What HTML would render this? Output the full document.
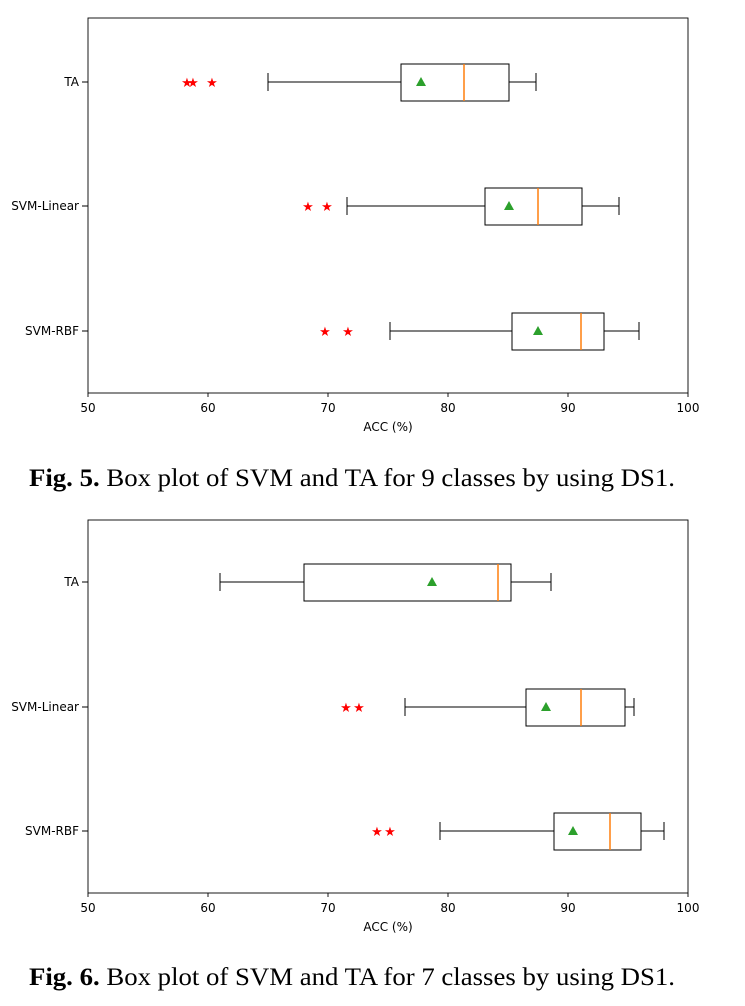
<!DOCTYPE html>
<html><head><style>body{margin:0;background:#fff}svg{display:block}</style></head><body>
<svg width="745" height="1006" xmlns="http://www.w3.org/2000/svg" font-family="DejaVu Sans, Liberation Sans, sans-serif">
<defs>
<g id="ticks">
<g stroke="#000" stroke-width="0.9">
<line x1="88" y1="0" x2="88" y2="4"/><line x1="208" y1="0" x2="208" y2="4"/><line x1="328" y1="0" x2="328" y2="4"/><line x1="448" y1="0" x2="448" y2="4"/><line x1="568" y1="0" x2="568" y2="4"/><line x1="688" y1="0" x2="688" y2="4"/>
</g>
<g font-size="12" text-anchor="middle" fill="#000">
<text x="88" y="19">50</text><text x="208" y="19">60</text><text x="328" y="19">70</text><text x="448" y="19">80</text><text x="568" y="19">90</text><text x="688" y="19">100</text>
<text x="388" y="38" font-size="12">ACC (%)</text>
</g>
</g>
<polygon id="tri" points="0,-5 5,4 -5,4" fill="#2ca02c"/>
</defs>
<!-- Plot 1 -->
<rect x="88" y="18" width="600" height="375" fill="none" stroke="#000" stroke-width="0.9"/>
<use href="#ticks" y="393"/>
<g font-size="12" text-anchor="end" fill="#000">
<text x="79" y="86">TA</text><text x="79" y="210">SVM-Linear</text><text x="79" y="335">SVM-RBF</text>
</g>
<g stroke="#000" stroke-width="1" fill="none">
<line x1="82" y1="82" x2="88" y2="82"/><line x1="82" y1="206" x2="88" y2="206"/><line x1="82" y1="331" x2="88" y2="331"/>
<line x1="268" y1="82" x2="401" y2="82"/><line x1="509" y1="82" x2="536" y2="82"/><line x1="268" y1="73" x2="268" y2="91"/><line x1="536" y1="73" x2="536" y2="91"/><rect x="401" y="64" width="108" height="37"/>
<line x1="347" y1="206" x2="485" y2="206"/><line x1="582" y1="206" x2="619" y2="206"/><line x1="347" y1="197" x2="347" y2="215"/><line x1="619" y1="197" x2="619" y2="215"/><rect x="485" y="188" width="97" height="37"/>
<line x1="390" y1="331" x2="512" y2="331"/><line x1="604" y1="331" x2="639" y2="331"/><line x1="390" y1="322" x2="390" y2="340"/><line x1="639" y1="322" x2="639" y2="340"/><rect x="512" y="313" width="92" height="37"/>
</g>
<g stroke="#ff7f0e" stroke-width="1.5"><line x1="464" y1="64" x2="464" y2="101"/><line x1="538" y1="188" x2="538" y2="225"/><line x1="581" y1="313" x2="581" y2="350"/></g>
<use href="#tri" x="421" y="82"/><use href="#tri" x="509" y="206"/><use href="#tri" x="538" y="331"/>
<g fill="red" font-size="13" text-anchor="middle">
<text x="187" y="87">★</text><text x="193" y="87">★</text><text x="212" y="87">★</text>
<text x="308" y="211">★</text><text x="327" y="211">★</text>
<text x="325" y="336">★</text><text x="348" y="336">★</text>
</g>
<text x="29" y="486" font-family="Liberation Serif, serif" font-size="25" textLength="646" lengthAdjust="spacingAndGlyphs"><tspan font-weight="bold">Fig. 5.</tspan> Box plot of SVM and TA for 9 classes by using DS1.</text>
<!-- Plot 2 -->
<rect x="88" y="520" width="600" height="373" fill="none" stroke="#000" stroke-width="0.9"/>
<use href="#ticks" y="893"/>
<g font-size="12" text-anchor="end" fill="#000">
<text x="79" y="586">TA</text><text x="79" y="711">SVM-Linear</text><text x="79" y="835">SVM-RBF</text>
</g>
<g stroke="#000" stroke-width="1" fill="none">
<line x1="82" y1="582" x2="88" y2="582"/><line x1="82" y1="707" x2="88" y2="707"/><line x1="82" y1="831" x2="88" y2="831"/>
<line x1="220" y1="582" x2="304" y2="582"/><line x1="511" y1="582" x2="551" y2="582"/><line x1="220" y1="573" x2="220" y2="591"/><line x1="551" y1="573" x2="551" y2="591"/><rect x="304" y="564" width="207" height="37"/>
<line x1="405" y1="707" x2="526" y2="707"/><line x1="625" y1="707" x2="634" y2="707"/><line x1="405" y1="698" x2="405" y2="716"/><line x1="634" y1="698" x2="634" y2="716"/><rect x="526" y="689" width="99" height="37"/>
<line x1="440" y1="831" x2="554" y2="831"/><line x1="641" y1="831" x2="664" y2="831"/><line x1="440" y1="822" x2="440" y2="840"/><line x1="664" y1="822" x2="664" y2="840"/><rect x="554" y="813" width="87" height="37"/>
</g>
<g stroke="#ff7f0e" stroke-width="1.5"><line x1="498" y1="564" x2="498" y2="601"/><line x1="581" y1="689" x2="581" y2="726"/><line x1="610" y1="813" x2="610" y2="850"/></g>
<use href="#tri" x="432" y="582"/><use href="#tri" x="546" y="707"/><use href="#tri" x="573" y="831"/>
<g fill="red" font-size="13" text-anchor="middle">
<text x="346" y="712">★</text><text x="359" y="712">★</text>
<text x="377" y="836">★</text><text x="390" y="836">★</text>
</g>
<text x="29" y="985" font-family="Liberation Serif, serif" font-size="25" textLength="646" lengthAdjust="spacingAndGlyphs"><tspan font-weight="bold">Fig. 6.</tspan> Box plot of SVM and TA for 7 classes by using DS1.</text>
</svg>
</body></html>
